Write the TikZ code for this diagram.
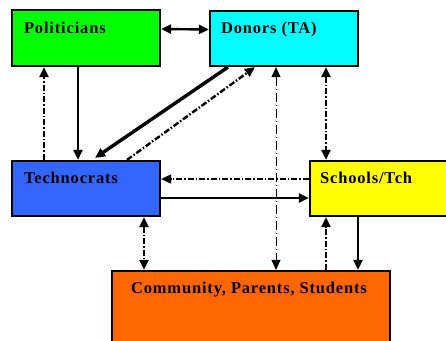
\documentclass[tikz,border=0pt]{standalone}
\usepackage{fontspec}
\setmainfont{Liberation Serif}
\usetikzlibrary{arrows.meta}

\definecolor{polgreen}{HTML}{00FF00}
\definecolor{doncyan}{HTML}{00FFFF}
\definecolor{techblue}{HTML}{3366FF}
\definecolor{schyellow}{HTML}{FFFF00}
\definecolor{comorange}{HTML}{FF6600}

\begin{document}
\begin{tikzpicture}[
    x=1pt, y=-1pt,
    box/.style={draw, line width=2.2pt, minimum width=148pt, minimum height=55pt, inner sep=0pt},
    lbl/.style={anchor=base west, inner sep=0pt, font=\bfseries\fontsize{16.5}{19}\selectfont\addfontfeatures{LetterSpace=5}},
    arrow/.style={-{Triangle[length=10pt,width=9pt]}, line width=2.4pt},
    biarrow/.style={{Triangle[length=10pt,width=9pt]}-{Triangle[length=10pt,width=9pt]}, line width=2.4pt},
    dashdot/.style={dash pattern=on 6pt off 2pt on 1.5pt off 2pt},
    thindash/.style={line width=1pt, dash pattern=on 9pt off 3pt on 1pt off 3pt},
]
    \useasboundingbox (0,0) rectangle (446,340);

    \node[box, fill=polgreen, minimum height=56pt] (pol) at (86,38) {};
    \node[box, fill=doncyan] (don) at (284,38.5) {};
    \node[box, fill=techblue] (tech) at (86,188.5) {};
    \node[box, fill=schyellow, minimum width=150pt] (sch) at (385,188.5) {};
    \node[box, fill=comorange, minimum width=278pt, minimum height=89pt] (com) at (251,315.5) {};

    \node[lbl] (polt) at ([shift={(13,24.5)}]pol.north west) {Politicians};
    \node[lbl] (dont) at ([shift={(12,23.5)}]don.north west) {Donors (TA)};
    \node[lbl] (techt) at ([shift={(13,23.5)}]tech.north west) {Technocrats};
    \node[lbl] (scht) at ([shift={(11,23.5)}]sch.north west) {Schools/Tch};
    \node[lbl] (comt) at ([shift={(20,23.5)}]com.north west) {Community, Parents, Students};

    % solid links
    \draw[biarrow] ([yshift=9pt]pol.east) -- ([yshift=9pt]don.west);
    \draw[arrow] ([xshift=-8pt]pol.south) -- ([xshift=-8pt]tech.north);
    \draw[arrow, line width=3.4pt] ([xshift=-56pt]don.south) -- ([xshift=9pt,yshift=2pt]tech.north);
    \draw[arrow] ([yshift=-9.5pt]tech.east) -- ([yshift=-9.5pt]sch.west);
    \draw[arrow] ([xshift=-27pt]sch.south) -- ([xshift=107pt]com.north);

    % dash-dot links
    \draw[arrow, dashdot] ([xshift=-42pt]tech.north) -- ([xshift=-42pt]pol.south);
    \draw[arrow, dashdot] ([xshift=41pt]tech.north) -- ([xshift=-29pt]don.south);
    \draw[biarrow, thindash] ([xshift=-8pt]don.south) -- ([xshift=25pt]com.north);
    \draw[biarrow, dashdot] ([xshift=42pt]don.south) -- ([xshift=-59pt]sch.north);
    \draw[arrow, dashdot, line width=1.7pt] ([yshift=9.5pt]sch.west) -- ([yshift=9.5pt]tech.east);
    \draw[biarrow, dashdot] ([xshift=58pt]tech.south) -- ([xshift=-107pt]com.north);
    \draw[arrow, dashdot] ([xshift=75pt]com.north) -- ([xshift=-59pt]sch.south);
\end{tikzpicture}
\end{document}
